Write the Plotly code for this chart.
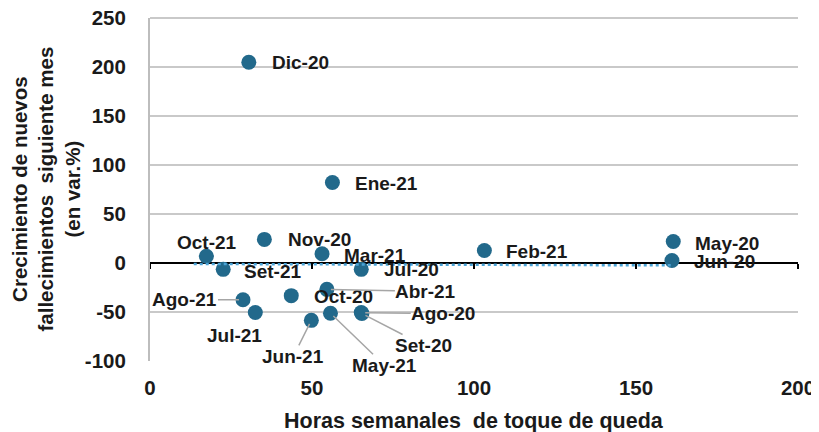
import plotly.graph_objects as go

# ---- data ----
labels = ["Dic-20", "Ene-21", "Nov-20", "Oct-21", "Mar-21", "Set-21", "Jul-20",
          "Feb-21", "May-20", "Jun-20", "Ago-21", "Jul-21", "Oct-20", "Abr-21",
          "Jun-21", "May-21", "Ago-20", "Set-20"]
horas = [30.5, 56.3, 35.3, 17.4, 53.1, 22.6, 65.2,
         103.2, 161.5, 161.1, 28.7, 32.5, 43.6, 54.6,
         49.8, 55.7, 65.2, 65.4]
crecimiento = [204.8, 82.2, 24.1, 6.9, 9.5, -6.5, -6.5,
               12.8, 22.0, 2.6, -37.5, -50.5, -33.3, -26.9,
               -58.5, -51.3, -50.6, -51.5]
trend_x = [13.5, 161.5]
trend_y = [-1.0, -2.4]

x_ticks = [0, 50, 100, 150, 200]
y_ticks = [-100, -50, 0, 50, 100, 150, 200, 250]

x_title = "Horas semanales  de toque de queda"
y_title = "Crecimiento de nuevos<br>fallecimientos  siguiente mes<br>(en var.%)"

# ---- label placement (pixel offsets of label centre from point) ----
label_style = {
    "Dic-20": (52, 0, False), "Ene-21": (54, 1, False), "Nov-20": (55, 0, False),
    "Oct-21": (1, -14, False), "Mar-21": (53, 2, False), "Set-21": (49, 2, False),
    "Jul-20": (50, 0, False), "Feb-21": (53, 1, False), "May-20": (54, 2, False),
    "Jun-20": (53, 1, False), "Ago-21": (-58, 0, True), "Jul-21": (-21, 23, False),
    "Oct-20": (52, 1, False), "Abr-21": (99, 2, True), "Jun-21": (-18, 36, True),
    "May-21": (54, 52, True), "Ago-20": (82, 1, True), "Set-20": (62, 32, True),
}

FONT = "Liberation Sans, Arial, sans-serif"
MARKER = "#22698b"
TXT = "#1a1a1a"
GRID = "#c9c9c9"

fig = go.Figure()
fig.add_trace(go.Scatter(
    x=trend_x, y=trend_y, mode="lines", xaxis="x2", yaxis="y",
    line=dict(color="#4aa3d6", width=2.5, dash="dot"), hoverinfo="skip",
    showlegend=False))
fig.add_trace(go.Scatter(
    x=horas, y=crecimiento, mode="markers", text=labels,
    marker=dict(color=MARKER, size=15), showlegend=False))

annotations = []
for lab, xv, yv in zip(labels, horas, crecimiento):
    dx, dy, leader = label_style[lab]
    annotations.append(dict(
        x=xv, y=yv, xref="x", yref="y", text="<b>%s</b>" % lab,
        showarrow=True, ax=dx, ay=dy, axref="pixel", ayref="pixel",
        arrowhead=0, arrowwidth=1.5, standoff=4,
        arrowcolor="#a6a6a6" if leader else "rgba(0,0,0,0)",
        font=dict(family=FONT, size=19, color=TXT), borderpad=0))

annotations.append(dict(
    text="<b>%s</b>" % x_title, xref="paper", yref="paper", x=0.5, y=-0.175,
    xanchor="center", yanchor="middle", showarrow=False,
    font=dict(family=FONT, size=21.5, color=TXT)))
annotations.append(dict(
    text="<b>%s</b>" % y_title, xref="paper", yref="paper", x=-0.162, y=0.5,
    xanchor="center", yanchor="middle", showarrow=False, textangle=-90,
    font=dict(family=FONT, size=20.5, color=TXT)))

# page body adds an 8px offset; figure is sized to fill the rest of the window
fig.update_layout(
    width=811, height=424,
    margin=dict(l=142, r=21, t=10, b=70.6),
    paper_bgcolor="white", plot_bgcolor="white",
    font=dict(family=FONT, size=20, color=TXT),
    xaxis=dict(range=[0, 200], tickvals=x_ticks, automargin=False,
               ticktext=["<b>%d</b>" % v for v in x_ticks],
               showgrid=False, zeroline=False, showline=False,
               ticks="", ticklabelstandoff=12, ticklabeloverflow="allow",
               tickfont=dict(family=FONT, size=20.5, color=TXT)),
    xaxis2=dict(range=[0, 200], overlaying="x", anchor="free",
                position=100 / 350, tickvals=x_ticks, showticklabels=False,
                showgrid=False, zeroline=False, showline=True,
                linecolor="black", linewidth=2, ticks="outside",
                ticklen=5, tickwidth=2, tickcolor="black",
                layer="below traces", automargin=False),
    yaxis=dict(range=[-100, 250], tickvals=y_ticks, automargin=False,
               ticktext=["<b>%d</b>" % v for v in y_ticks],
               showgrid=True, gridcolor=GRID, gridwidth=2,
               zeroline=False, showline=True, linecolor="#bdbdbd",
               linewidth=2, ticks="", ticklabelstandoff=18,
               ticklabeloverflow="allow",
               tickfont=dict(family=FONT, size=20.5, color=TXT)),
    annotations=annotations,
)
# top gridline (plot's upper edge), drawn in paper space so it is not clipped
fig.add_shape(type="line", xref="paper", yref="paper", x0=0, x1=1,
              y0=1, y1=1, layer="below",
              line=dict(color=GRID, width=2))

fig.write_html("out.html")
